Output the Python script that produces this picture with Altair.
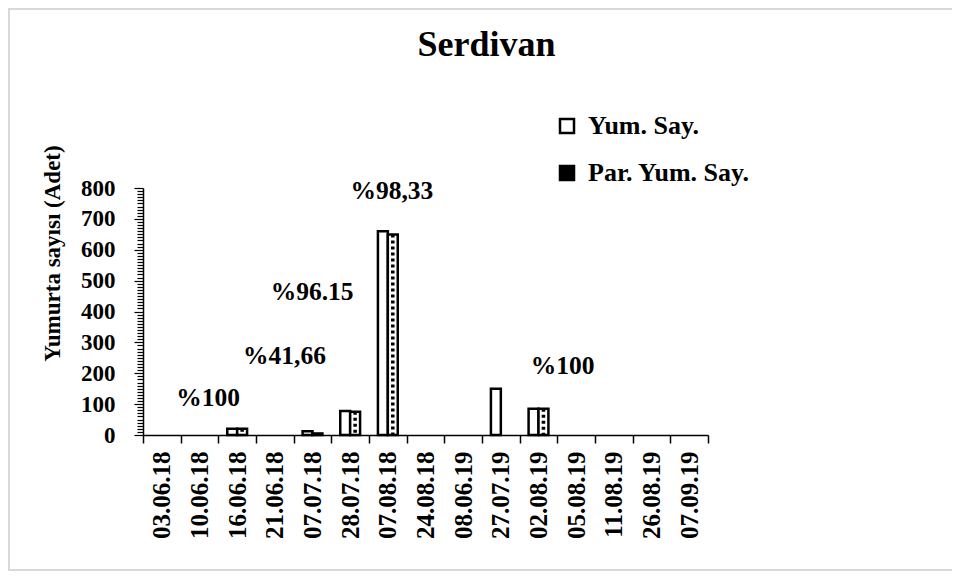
import altair as alt
import pandas as pd

dates = ["03.06.18", "10.06.18", "16.06.18", "21.06.18", "07.07.18", "28.07.18",
         "07.08.18", "24.08.18", "08.06.19", "27.07.19", "02.08.19", "05.08.19",
         "11.08.19", "26.08.19", "07.09.19"]
yum_say = [0, 0, 20, 0, 12, 78, 660, 0, 0, 150, 85, 0, 0, 0, 0]
par_yum_say = [0, 0, 20, 0, 5, 75, 649, 0, 0, 0, 85, 0, 0, 0, 0]
series_names = ["Yum. Say.", "Par. Yum. Say."]

ann_text = ["%100", "%41,66", "%96.15", "%98,33", "%100"]
ann_date = ["16.06.18", "07.07.18", "28.07.18", "07.08.18", "02.08.19"]
ann_y = [120, 256, 462, 789, 224]
ann_dx = [-29, -28, -38, 4, 24]

FONT = "Liberation Serif"

rows = []
for d, a, b in zip(dates, yum_say, par_yum_say):
    rows.append({"date": d, "series": series_names[0], "value": a})
    rows.append({"date": d, "series": series_names[1], "value": b})
df = pd.DataFrame(rows)

x_enc = alt.X(
    "date:N", sort=dates,
    scale=alt.Scale(domain=dates, paddingInner=0, paddingOuter=0),
    axis=alt.Axis(
        title=None, labelAngle=270, labelAlign="right", labelBaseline="middle",
        tickBand="extent", tickSize=8, tickColor="black", tickWidth=1.5,
        domainColor="black", domainWidth=1.5, labelPadding=8,
        labelFont=FONT, labelFontSize=25, labelFontWeight="bold", labelColor="black",
    ),
)
xoff_enc = alt.XOffset(
    "series:N", sort=series_names,
    scale=alt.Scale(domain=series_names, paddingInner=0, paddingOuter=0.9),
)
y_enc = alt.Y(
    "value:Q",
    scale=alt.Scale(domain=[0, 800], nice=False),
    axis=alt.Axis(
        title="Yumurta sayısı (Adet)",
        values=list(range(0, 801, 10)),
        labelExpr="datum.value % 100 === 0 ? datum.label : ''",
        labelOverlap=False,
        tickSize={"condition": {"test": "datum.value % 100 === 0", "value": 9}, "value": 6},
        tickColor="black", tickWidth=1.2, domainColor="black", domainWidth=1.5,
        labelPadding=19, grid=False,
        labelFont=FONT, labelFontSize=23, labelFontWeight="bold", labelColor="black",
        titleFont=FONT, titleFontSize=23, titleFontWeight="bold", titleColor="black",
        titleAngle=270, titleX=-91, titleY=65, titleAlign="center", titleBaseline="middle",
    ),
)

frame = alt.Chart(alt.Data(values=[{}])).mark_rect(
    fill="transparent", stroke="#d9d9d9", strokeWidth=2
).encode(x=alt.value(-134), x2=alt.value(840), y=alt.value(-179), y2=alt.value(382))

base = alt.Chart(df)

bars = base.mark_bar(fill="white", stroke="black", strokeWidth=2.5).encode(
    x=x_enc, xOffset=xoff_enc, y=y_enc
).transform_filter("datum.value > 0")

hatch = base.mark_rule(color="black", strokeWidth=3.5, strokeDash=[3, 3]).encode(
    x=x_enc, xOffset=xoff_enc, y=y_enc, y2=alt.datum(0)
).transform_filter(
    f"datum.value > 0 && datum.series === '{series_names[1]}'"
)

legend_layer = base.mark_square(opacity=0).encode(
    x=x_enc, y=y_enc,
    fill=alt.Fill(
        "series:N", sort=series_names,
        scale=alt.Scale(domain=series_names, range=["white", "black"]),
        legend=alt.Legend(
            title=None, orient="none", legendX=411, legendY=-75,
            symbolType="square", symbolSize=196, symbolOpacity=1,
            symbolStrokeColor="black", symbolStrokeWidth=2.5,
            labelFont=FONT, labelFontSize=26, labelFontWeight="bold", labelColor="black",
            labelLimit=400, rowPadding=21, labelOffset=8,
        ),
    ),
)

ann_layers = []
for t, d, yv, dx in zip(ann_text, ann_date, ann_y, ann_dx):
    ann_df = pd.DataFrame({"date": [d], "value": [yv], "label": [t]})
    ann_layers.append(
        alt.Chart(ann_df).mark_text(
            dx=dx, font=FONT, fontSize=25.5, fontWeight="bold", color="black",
            align="center", baseline="middle",
        ).encode(x=x_enc, y=y_enc, text="label:N")
    )

chart = alt.layer(frame, bars, hatch, legend_layer, *ann_layers).properties(
    width=565, height=247,
    autosize=alt.AutoSizeParams(type="none"),
    padding={"left": 135, "top": 180, "right": 244, "bottom": 137},
    title=alt.TitleParams(
        "Serdivan", font=FONT, fontSize=36, fontWeight="bold", color="black",
        anchor="middle", frame="group", dx=61, offset=-56,
    ),
    background="white",
).configure_view(stroke=None)

chart.save("out.html", embed_options={"renderer": "svg", "actions": False})
